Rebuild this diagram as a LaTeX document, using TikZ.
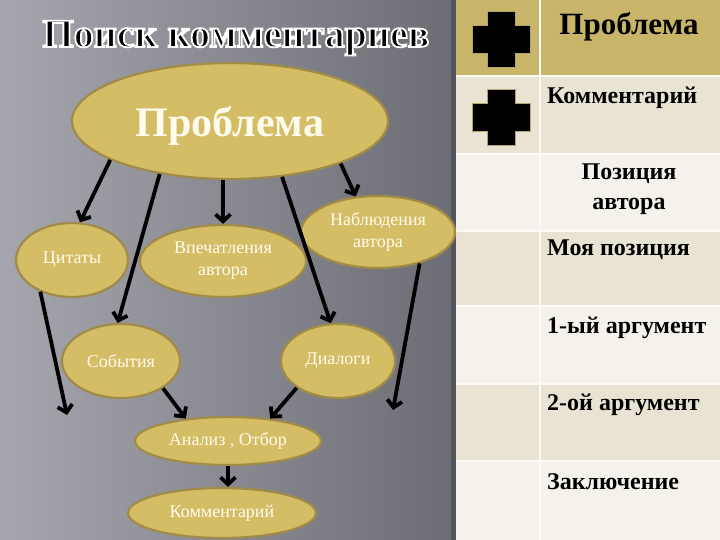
\documentclass[tikz,border=0pt]{standalone}
\usepackage{fontspec}
\setmainfont{Liberation Serif}
\usetikzlibrary{arrows.meta,shapes.geometric}
\definecolor{gold}{HTML}{D4BD64}
\definecolor{goldline}{HTML}{A08C48}
\definecolor{hdr}{HTML}{C9B56A}
\definecolor{rowa}{HTML}{E9E3D3}
\definecolor{rowb}{HTML}{F5F2EB}
\definecolor{tabbg}{HTML}{FBFAF6}
\definecolor{bgl}{HTML}{A6A6AE}
\definecolor{bgd}{HTML}{6C6C74}
\definecolor{edge}{HTML}{55555C}
\definecolor{txtw}{HTML}{FFFBEF}
\newcommand{\outlinedtext}[1]{\special{pdf:literal direct 2 Tr 1.8 w 1 1 1 RG}#1\special{pdf:literal direct 0 Tr 1 w 0 0 0 RG}}
\tikzset{
  oval/.style={ellipse, draw=goldline, line width=2.2pt, fill=gold, inner sep=0pt,
    text=txtw, align=center, font=\fontsize{18}{22}\selectfont},
  arr/.style={line width=3.8pt, black, -{Straight Barb[length=7pt,width=15pt]}},
  tabtxt/.style={font=\fontsize{24}{30}\selectfont\bfseries, text=black, inner sep=0pt},
  crossmark/.style={fill=black, draw=goldline!80, line width=1pt},
  titlefont/.style={font=\fontsize{40}{44}\selectfont\bfseries, inner sep=0pt, anchor=base},
}
\begin{document}
\begin{tikzpicture}[x=1pt,y=-1pt]
\useasboundingbox (0,0) rectangle (720,540);
% background
\shade[left color=bgl, right color=bgd] (0,0) rectangle (456,540);
\fill[edge] (451,0) rectangle (456,540);
% table
\fill[tabbg] (456,0) rectangle (720,540);
\fill[hdr]  (456,0)   rectangle (720,75);
\fill[rowa] (456,77)  rectangle (720,153);
\fill[rowb] (456,155) rectangle (720,230);
\fill[rowa] (456,232) rectangle (720,305);
\fill[rowb] (456,307) rectangle (720,383);
\fill[rowa] (456,385) rectangle (720,460);
\fill[rowb] (456,462) rectangle (720,540);
\fill[tabbg] (539,0) rectangle (541,540);
% crosses
\foreach \cy in {40,118}{
  \begin{scope}[shift={(501,\cy)}]
  \draw[crossmark] (-14,-28) -- (14,-28) -- (14,-14) -- (29,-14) -- (29,14) -- (14,14)
    -- (14,28) -- (-14,28) -- (-14,14) -- (-29,14) -- (-29,-14) -- (-14,-14) -- cycle;
  \end{scope}
}
% table texts
\node[tabtxt, font=\fontsize{31}{34}\selectfont\bfseries] (t1) at (629,27) {Проблема};
\node[tabtxt, anchor=west] (t2) at (547,98) {Комментарий};
\node[tabtxt, align=center] (t3) at (629,189) {Позиция\\автора};
\node[tabtxt, anchor=west] (t4) at (547,250) {Моя позиция};
\node[tabtxt, anchor=west] (t5) at (547,328) {1-ый аргумент};
\node[tabtxt, anchor=west] (t6) at (547,405) {2-ой аргумент};
\node[tabtxt, anchor=west] (t7) at (547,482) {Заключение};
% title with white outline
\node[titlefont, text=black] (title) at (236,47) {\outlinedtext{Поиск комментариев}};
% ellipses
\node[oval, minimum width=316, minimum height=116, text depth=0pt, font=\fontsize{42}{44}\selectfont\bfseries] (prob) at (230,121) {Проблема};
\node[oval, minimum width=112, minimum height=74] (cit) at (72,260) {Цитаты};
\node[oval, minimum width=166, minimum height=72] (vpe) at (223,261) {Впечатления\\автора};
\node[oval, minimum width=154, minimum height=72] (nab) at (378,232) {Наблюдения\\автора};
\node[oval, minimum width=118, minimum height=74] (sob) at (121,361) {События};
\node[oval, minimum width=114, minimum height=74] (dia) at (338,361) {Диалоги};
\node[oval, minimum width=186, minimum height=48] (ana) at (228,441) {Анализ , Отбор};
\node[oval, minimum width=188, minimum height=50] (kom) at (222,513) {Комментарий};
% free ends
\coordinate (e1) at (67,415);
\coordinate (e2) at (393,410);
% connectors
\draw[arr] (prob.198) -- (cit.78);
\draw[arr] (prob.217) -- (sob.95);
\draw[arr] (vpe.north |- prob.south) -- (vpe.north);
\draw[arr] (prob.313) -- (dia.101);
\draw[arr] (prob.339) -- (nab.122);
\draw[arr] (cit.225) -- (e1);
\draw[arr] (nab.323) -- (e2);
\draw[arr] (sob.327) -- (ana.152);
\draw[arr] (dia.213) -- (ana.28);
\draw[arr] (ana.south) -- (ana.south |- kom.north);
\end{tikzpicture}
\end{document}
